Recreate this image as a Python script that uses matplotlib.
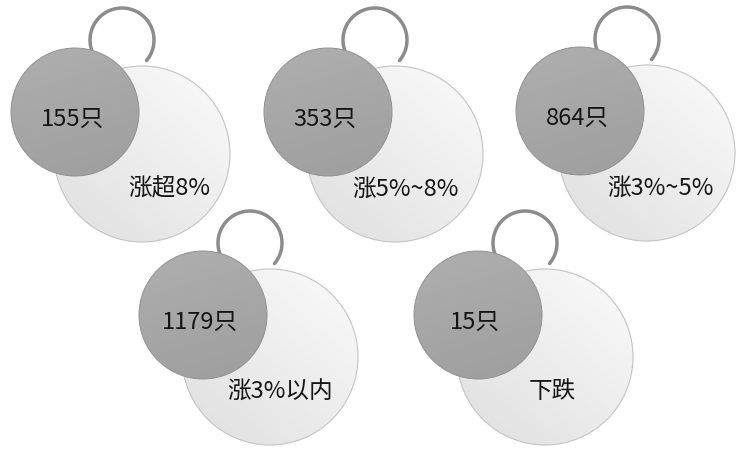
import numpy as np
import matplotlib
matplotlib.use("Agg")
import matplotlib.pyplot as plt
from matplotlib.patches import Circle

plt.rcParams['font.family'] = ['Noto Sans CJK SC', 'DejaVu Sans']

# ---- data ----
counts = ['155', '353', '864', '1179', '15']
unit = '只'
labels = ['涨超8%', '涨5%~8%', '涨3%~5%', '涨3%以内', '下跌']

# ---- layout (pixel coords, y down) ----
dark_centers = [(75, 113), (328, 113), (580, 112), (203, 316), (478, 316)]
label_dx = [94, 77, 80, 77, 74]
R_DARK = 64
R_LIGHT = 88
LIGHT_OFF = (67, 42)
RING_OFF = (47, -72)
R_RING = 32

W, H = 739, 452
fig = plt.figure(figsize=(W / 100, H / 100), dpi=100)
ax = fig.add_axes([0, 0, 1, 1])
ax.set_xlim(0, W)
ax.set_ylim(H, 0)
ax.set_aspect('equal')
ax.axis('off')


def grad_circle(cx, cy, r, c_top, c_bot, edge, z, direction=(0.0, 1.0), lw=0.8):
    n = 200
    xs = np.linspace(-1, 1, n)
    X, Y = np.meshgrid(xs, xs)
    t = (X * direction[0] + Y * direction[1]) / np.hypot(*direction)
    t = np.clip((t + 1) / 2, 0, 1)
    c_top = np.array(matplotlib.colors.to_rgb(c_top))
    c_bot = np.array(matplotlib.colors.to_rgb(c_bot))
    img = c_top[None, None, :] * (1 - t[..., None]) + c_bot[None, None, :] * t[..., None]
    im = ax.imshow(img, extent=(cx - r, cx + r, cy + r, cy - r), zorder=z,
                   interpolation='bilinear')
    clip = Circle((cx, cy), r, transform=ax.transData, facecolor='none', edgecolor='none')
    ax.add_patch(clip)
    im.set_clip_path(clip)
    ax.add_patch(Circle((cx, cy), r, facecolor='none', edgecolor=edge, lw=lw, zorder=z + 0.1))


for i, (cx, cy) in enumerate(dark_centers):
    base = i * 10
    # ring
    rcx, rcy = cx + RING_OFF[0], cy + RING_OFF[1]
    t = np.radians(np.linspace(-40, 224, 200))
    ax.plot(rcx + R_RING * np.cos(t), rcy - R_RING * np.sin(t),
            color='#8c8c8c', lw=2.5, solid_capstyle='round', zorder=base + 1)
    # light circle
    lx, ly = cx + LIGHT_OFF[0], cy + LIGHT_OFF[1]
    grad_circle(lx, ly, R_LIGHT, '#f7f7f7', '#e3e3e3', '#c4c4c4', base + 2,
                direction=(-1.0, 1.2), lw=0.8)
    # dark circle
    grad_circle(cx, cy, R_DARK, '#adadad', '#a0a0a0', '#929292', base + 4,
                direction=(0.3, 1.0), lw=0.7)
    ax.text(cx - 3, cy + 6, counts[i] + unit, ha='center', va='center',
            fontsize=17, color='#151515', zorder=base + 6)
    ax.text(cx + label_dx[i], cy + 76, labels[i], ha='center', va='center',
            fontsize=17, color='#151515', zorder=base + 6)

fig.savefig('out.png', dpi=100, facecolor='white')
